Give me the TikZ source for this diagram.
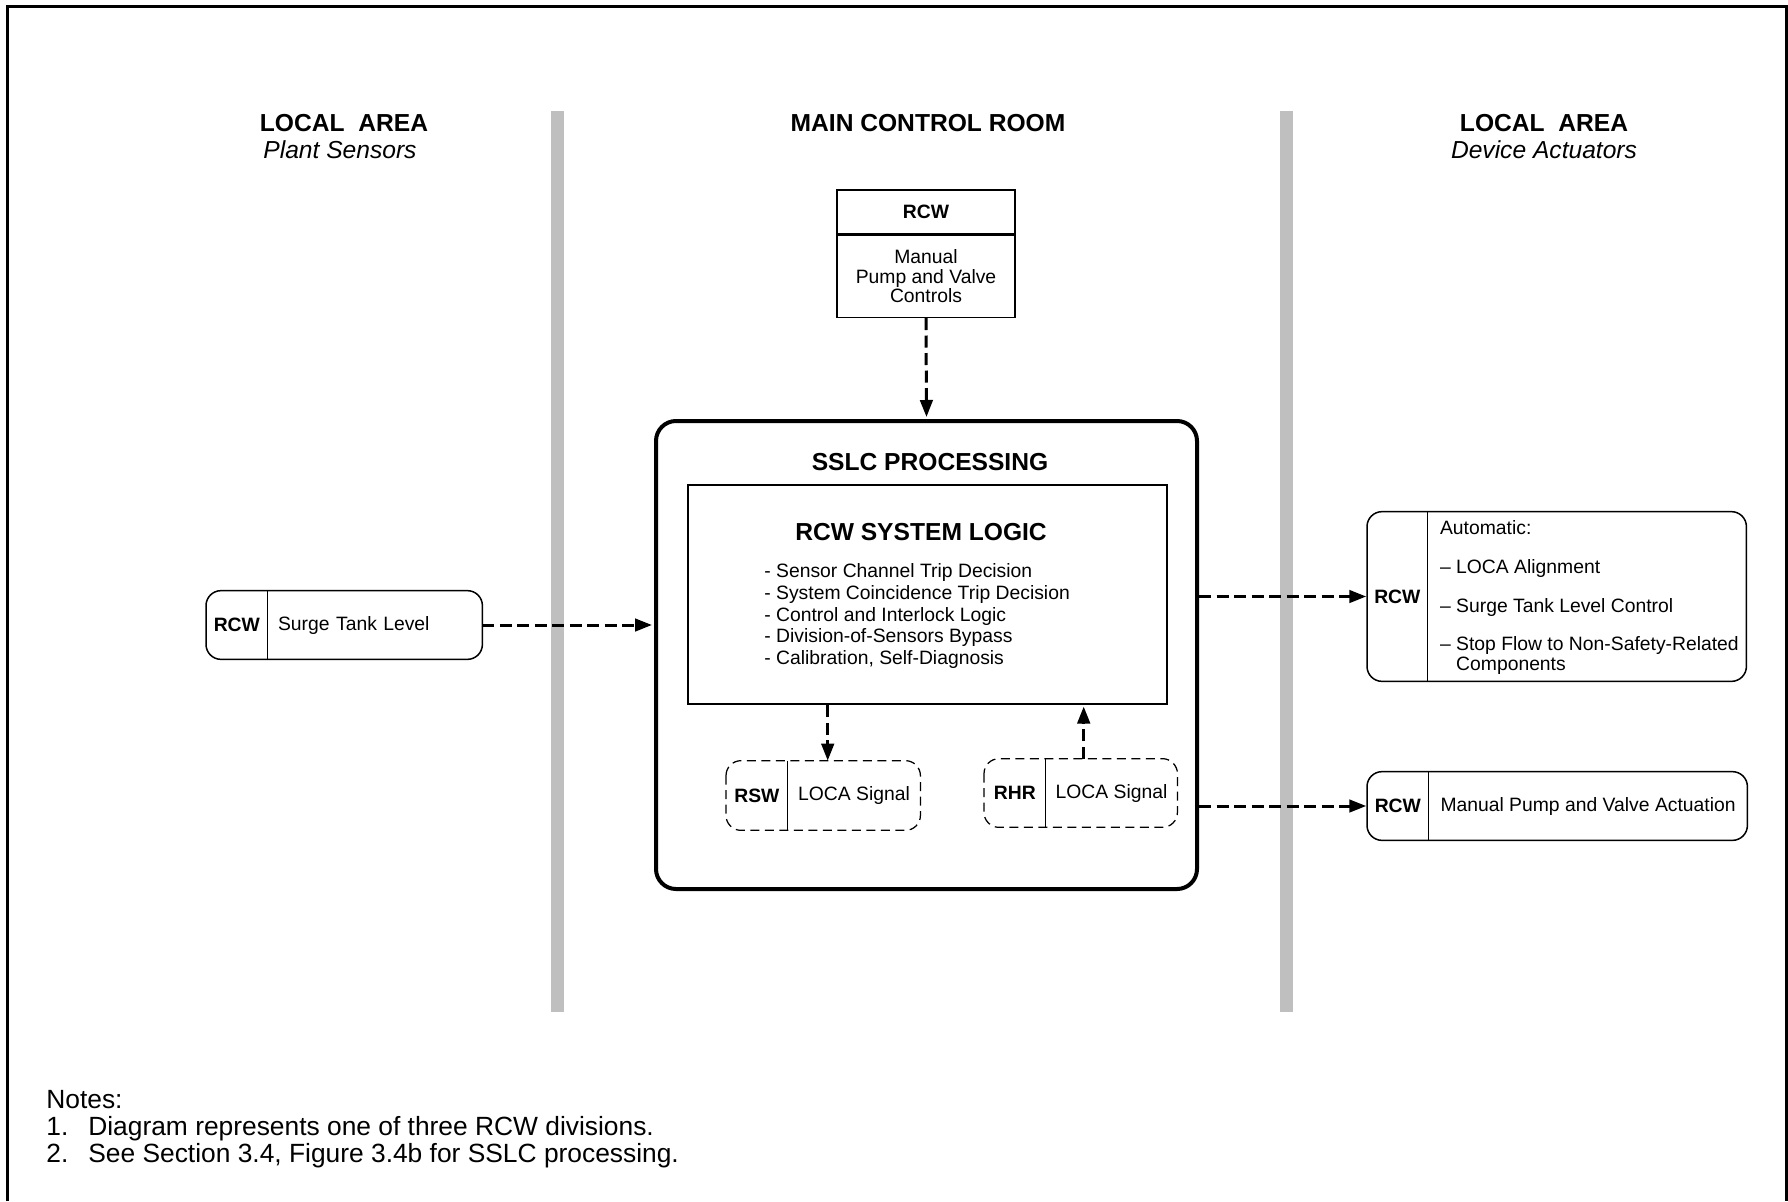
\documentclass[tikz,border=0pt]{standalone}
\usepackage{fontspec}
\setmainfont{Liberation Sans}
\usetikzlibrary{arrows.meta, positioning, calc}

\begin{document}
\begin{tikzpicture}[
    x=0.2mm, y=-0.2mm,
    font=\fontsize{11}{11}\selectfont,
    header/.style={font=\fontsize{14}{15}\selectfont\bfseries, inner sep=0pt},
    subheader/.style={font=\fontsize{14}{15}\selectfont\itshape, inner sep=0pt},
    graybar/.style={fill=black!25},
    border/.style={line width=0.6mm},
    rcwtag/.style={font=\fontsize{11}{11}\selectfont\bfseries, inner sep=0pt, minimum width=12.2mm},
    bodytext/.style={inner sep=0pt, align=center},
    boxline/.style={draw, line width=0.3mm},
    optline/.style={line width=0.25mm, dash pattern=on 1.8mm off 1.1mm},
    flow/.style={-{Triangle[length=3.4mm, width=2.5mm]}, line width=0.6mm, dash pattern=on 2.4mm off 1.1mm},
]
\useasboundingbox (0,0) rectangle (1788,1201);

% Frame and area dividers
\draw[border] (7,1201) -- (7,7) -- (1786,7) -- (1786,1201);
\foreach \bx in {557.5, 1286.5} {
    \fill[graybar] (\bx-6.5,111) rectangle (\bx+6.5,1012);
}

% Area headings
\node[header, anchor=base] (lochead) at (344,132) {LOCAL~~AREA};
\node[subheader, anchor=base] (locsub) at (340,158) {Plant Sensors};
\node[header, anchor=base] (mcrhead) at (928,132) {MAIN CONTROL ROOM};
\node[header, anchor=base] (acthead) at (1544,132) {LOCAL~~AREA};
\node[subheader, anchor=base] (actsub) at (1544,159) {Device Actuators};

% Manual controls
\node[boxline, rcwtag, minimum width=35.6mm, minimum height=8.8mm, anchor=north] (mpvtag) at (926,189) {RCW};
\node[boxline, bodytext, minimum width=35.6mm, minimum height=16.4mm, below=0pt of mpvtag] (mpvbody) {Manual\\Pump and Valve\\Controls};
\draw[line width=0.5mm] (mpvtag.south west) -- (mpvtag.south east);

% SSLC processing
\node[draw, line width=0.8mm, rounded corners=4mm, minimum width=108.2mm, minimum height=93.6mm] (sslc) at (926.5,655) {};
\node[header, anchor=base] (sslchead) at (930,470) {SSLC PROCESSING};
\node[draw, line width=0.5mm, minimum width=95.8mm, minimum height=43.8mm] (logic) at (927.5,594.5) {};
\node[header, anchor=base] (logichead) at (921,540) {RCW SYSTEM LOGIC};
\node[bodytext, align=left, anchor=west, font=\fontsize{11}{12.5}\selectfont] (logiclist) at (764,616) {- Sensor Channel Trip Decision\\- System Coincidence Trip Decision\\- Control and Interlock Logic\\- Division-of-Sensors Bypass\\- Calibration, Self-Diagnosis};

% Interface signals
\node[rcwtag, minimum height=13.8mm, anchor=west] (rswtag) at (726,795.5) {RSW};
\node[bodytext, minimum width=26.4mm, minimum height=13.8mm, right=0pt of rswtag] (rswtxt) {LOCA Signal};
\draw[optline, rounded corners=3mm] (rswtag.north west) rectangle (rswtxt.south east);
\draw[line width=0.25mm] (rswtag.north east) -- (rswtag.south east);

\node[rcwtag, minimum height=13.6mm, anchor=west] (rhrtag) at (984,793) {RHR};
\node[bodytext, minimum width=26.2mm, minimum height=13.6mm, right=0pt of rhrtag] (rhrtxt) {LOCA Signal};
\draw[optline, rounded corners=3mm] (rhrtag.north west) rectangle (rhrtxt.south east);
\draw[line width=0.25mm] (rhrtag.north east) -- (rhrtag.south east);

% Plant sensor
\node[rcwtag, minimum height=13.6mm, anchor=west] (sttag) at (206,625) {RCW};
\node[bodytext, align=left, text width=38.8mm, inner xsep=2mm, minimum height=13.6mm, right=0pt of sttag] (sttxt) {Surge Tank Level};
\draw[boxline, rounded corners=3mm] (sttag.north west) rectangle (sttxt.south east);
\draw[boxline] (sttag.north east) -- (sttag.south east);

% Device actuators
\node[rcwtag, minimum width=12mm, minimum height=33.8mm, anchor=west] (autotag) at (1367,596.5) {RCW};
\node[bodytext, minimum width=63.6mm, minimum height=33.8mm, right=0pt of autotag] (autotxt) {};
\node[bodytext, align=left, anchor=west] (autolist) at ($(autotxt.west)+(12,1)$) {Automatic:\\[11pt]– LOCA Alignment\\[11pt]– Surge Tank Level Control\\[11pt]– Stop Flow to Non-Safety-Related\\\phantom{– }Components};
\draw[boxline, rounded corners=3mm] (autotag.north west) rectangle (autotxt.south east);
\draw[boxline] (autotag.north east) -- (autotag.south east);

\node[rcwtag, minimum height=13.6mm, anchor=west] (mantag) at (1367,806) {RCW};
\node[bodytext, minimum width=63.6mm, minimum height=13.6mm, right=0pt of mantag] (mantxt) {Manual Pump and Valve Actuation};
\draw[boxline, rounded corners=3mm] (mantag.north west) rectangle (mantxt.south east);
\draw[boxline] (mantag.north east) -- (mantag.south east);

% Signal flow
\draw[flow, shorten >=0.4mm] (mpvbody.south) -- (sslc.north);
\draw[flow, shorten >=0.4mm] (sttxt.east) -- (sttxt.east -| sslc.west);
\draw[flow, shorten >=0.15mm] (autotag.west -| sslc.east) -- (autotag.west);
\draw[flow, shorten >=0.15mm] (mantag.west -| sslc.east) -- (mantag.west);
\coordinate (rswin) at ($(rswtxt.north west)+(40,0)$);
\draw[flow] (rswin |- logic.south) -- (rswin);
\coordinate (rhrout) at ($(rhrtxt.north west)+(38,0)$);
\draw[flow, shorten >=0.25mm] (rhrout) -- (rhrout |- logic.south);

% Notes
\node[anchor=north west, inner sep=0pt, align=left, font=\fontsize{15}{15.3}\selectfont] (notes) at (46,1090) {Notes:\\\makebox[8.4mm][l]{1.}Diagram represents one of three RCW divisions.\\\makebox[8.4mm][l]{2.}See Section 3.4, Figure 3.4b for SSLC processing.};

\end{tikzpicture}
\end{document}
